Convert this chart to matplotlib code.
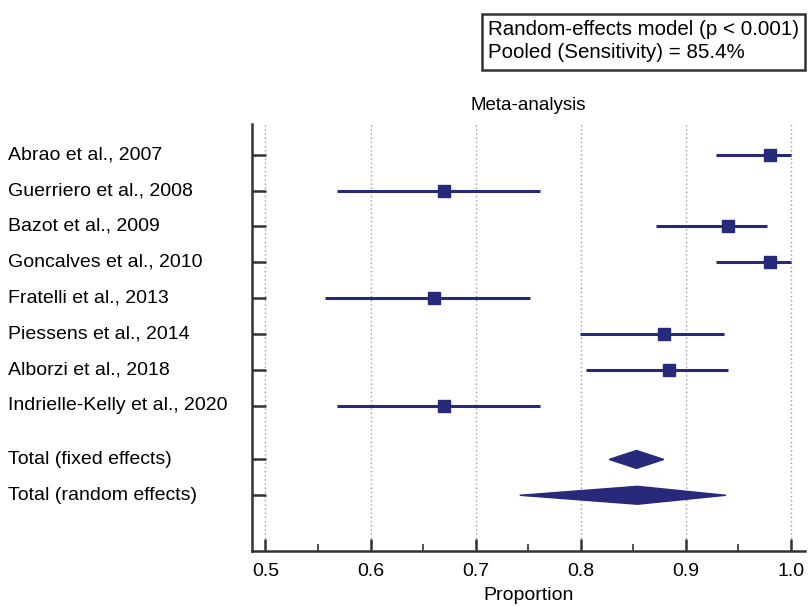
import matplotlib
matplotlib.use('Agg')
import matplotlib.pyplot as plt
import matplotlib.transforms as mtransforms
from matplotlib.patches import Polygon, Rectangle

plt.rcParams['font.family'] = ['Liberation Sans', 'DejaVu Sans']

studies = ['Abrao et al., 2007', 'Guerriero et al., 2008', 'Bazot et al., 2009',
           'Goncalves et al., 2010', 'Fratelli et al., 2013', 'Piessens et al., 2014',
           'Alborzi et al., 2018', 'Indrielle-Kelly et al., 2020']
prop = [0.980, 0.670, 0.940, 0.980, 0.660, 0.879, 0.884, 0.670]
ci_low = [0.929, 0.568, 0.872, 0.929, 0.557, 0.799, 0.805, 0.568]
ci_high = [1.000, 0.761, 0.977, 1.000, 0.752, 0.936, 0.940, 0.761]

totals = ['Total (fixed effects)', 'Total (random effects)']
tot_prop = [0.853, 0.854]
tot_low = [0.827, 0.742]
tot_high = [0.879, 0.938]

navy = '#27297a'

fig = plt.figure(figsize=(8.12, 6.06), dpi=100)
ax = fig.add_axes([0.310, 0.091, 0.681, 0.704])

ypos = list(range(len(studies)))
ytot = [len(studies) + 0.5, len(studies) + 1.5]

for y, p, lo, hi in zip(ypos, prop, ci_low, ci_high):
    ax.plot([lo, hi], [y, y], color=navy, lw=2.2, solid_capstyle='butt', zorder=3)
    ax.plot(p, y, marker='s', ms=8, color=navy, zorder=4)

# diamonds for pooled estimates
for y, p, lo, hi in zip(ytot, tot_prop, tot_low, tot_high):
    h = 0.25
    ax.add_patch(Polygon([[lo, y], [p, y - h], [hi, y], [p, y + h]],
                         closed=True, color=navy, zorder=4))

ax.set_xlim(0.487, 1.013)
ax.set_ylim(11.05, -0.85)
ax.set_xticks([0.5, 0.6, 0.7, 0.8, 0.9, 1.0])
ax.set_xticks([0.55, 0.65, 0.75, 0.85, 0.95], minor=True)
ax.set_xticklabels(['0.5', '0.6', '0.7', '0.8', '0.9', '1.0'], fontsize=14)
ax.set_yticks(ypos + ytot)
ax.set_yticklabels([])
ax.tick_params(axis='x', which='major', direction='in', length=9, width=1.8, color='#333333', pad=9)
ax.tick_params(axis='x', which='minor', direction='in', length=5, width=1.2, color='#333333')
ax.tick_params(axis='y', direction='in', length=10, width=1.8, color='#333333')

for s in ['top', 'right']:
    ax.spines[s].set_visible(False)
for s in ['left', 'bottom']:
    ax.spines[s].set_linewidth(1.8)
    ax.spines[s].set_color('#333333')

ax.grid(axis='x', which='major', linestyle=(0, (1, 2)), color='#999999', lw=1)
ax.set_axisbelow(True)

ax.set_title('Meta-analysis', fontsize=13.5, pad=10)
ax.set_xlabel('Proportion', fontsize=14, labelpad=5)

# row labels on the left
trans = mtransforms.blended_transform_factory(fig.transFigure, ax.transData)
for y, name in zip(ypos + ytot, studies + totals):
    ax.text(0.010, y, name, transform=trans, ha='left', va='center', fontsize=14)

# summary box
fig.patches.append(Rectangle((0.593, 0.884), 0.398, 0.093, transform=fig.transFigure,
                             fill=False, edgecolor='#333333', lw=1.8))
fig.text(0.601, 0.951, 'Random-effects model (p < 0.001)', fontsize=14.8, va='center')
fig.text(0.601, 0.914, 'Pooled (Sensitivity) = 85.4%', fontsize=14.8, va='center')

plt.savefig('out.png', dpi=100)
